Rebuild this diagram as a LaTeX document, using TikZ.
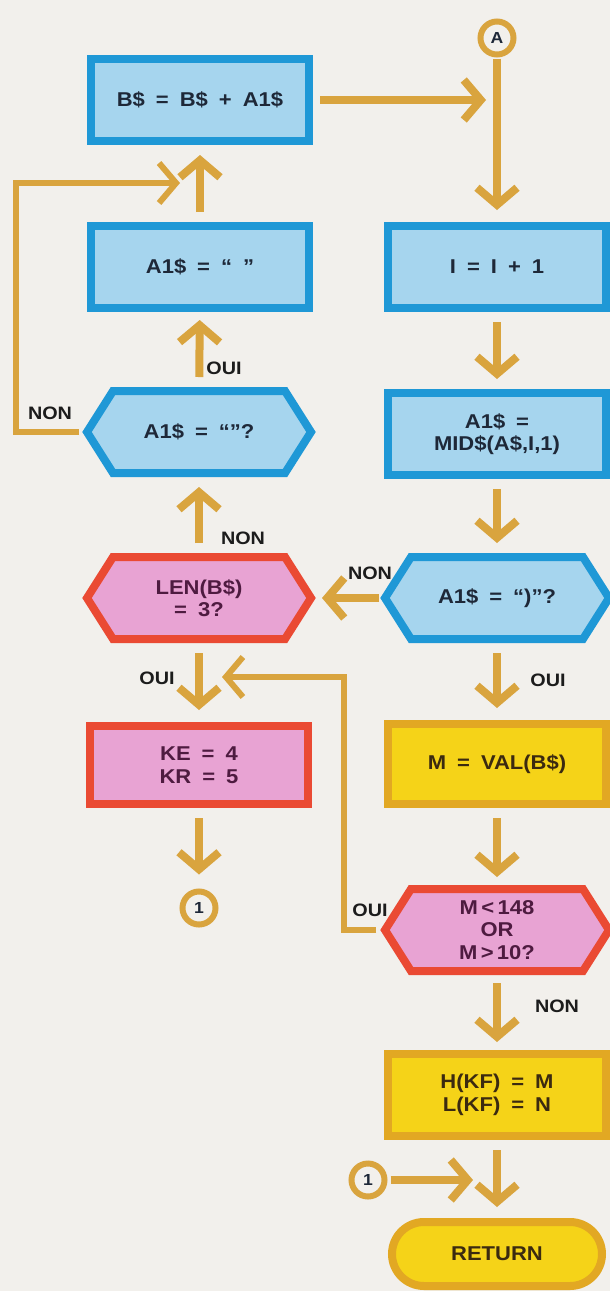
\documentclass[tikz,border=0pt]{standalone}
\usepackage{fontspec}
\setmainfont{Liberation Sans}[FakeStretch=1.1,WordSpace=1.8]
\usetikzlibrary{arrows.meta}

\pgfdeclarelayer{paperlayer}
\pgfdeclarelayer{framelayer}
\pgfsetlayers{paperlayer,framelayer,main}

\definecolor{paper}{HTML}{F2F0EC}
\definecolor{ochre}{HTML}{D9A43E}
\definecolor{bluerim}{HTML}{1F98D6}
\definecolor{bluefill}{HTML}{A6D5EE}
\definecolor{redrim}{HTML}{EA4A33}
\definecolor{pinkfill}{HTML}{E8A3D3}
\definecolor{goldrim}{HTML}{E2A823}
\definecolor{yellowfill}{HTML}{F5D318}
\definecolor{inkblue}{HTML}{1E2838}
\definecolor{inkpink}{HTML}{4E1B40}
\definecolor{inkgold}{HTML}{3B2A10}
\definecolor{labelink}{HTML}{1C1C1C}

\tikzset{
  txt/.style={font=\bfseries\fontsize{20}{22.5}\selectfont, align=center},
  procbox/.style={txt, rectangle, line width=8pt, minimum width=218pt,
    minimum height=82pt, inner sep=0pt},
  bluebox/.style={procbox, draw=bluerim, fill=bluefill, text=inkblue},
  pinkbox/.style={procbox, draw=redrim, fill=pinkfill, text=inkpink},
  goldbox/.style={procbox, draw=goldrim, fill=yellowfill, text=inkgold},
  testcore/.style={txt, rectangle, minimum width=224pt, minimum height=82pt,
    inner sep=0pt, outer sep=0pt},
  connector/.style={circle, draw=ochre, line width=6pt, fill=paper,
    minimum size=33pt, inner sep=0pt,
    font=\bfseries\fontsize{16}{16}\selectfont, text=inkblue},
  flow/.style={draw=ochre, line width=8pt,
    -{Straight Barb[length=17pt,width=40pt]},
    shorten <=10pt, shorten >=10pt},
  tag/.style={font=\bfseries\fontsize{18}{18}\selectfont, text=labelink,
    inner sep=0pt},
}

% hexagonal decision outline around a text node: name, rim colour, fill colour
\newcommand\testframe[3]{%
  \begin{pgfonlayer}{framelayer}
    \draw[line width=8pt, draw=#2, fill=#3, line join=miter]
      (#1.west) -- ([xshift=26pt]#1.north west) -- ([xshift=-26pt]#1.north east)
      -- (#1.east) -- ([xshift=-26pt]#1.south east) -- ([xshift=26pt]#1.south west)
      -- cycle;
  \end{pgfonlayer}}

\begin{document}
\begin{tikzpicture}[x=1pt,y=-1pt]
\begin{pgfonlayer}{paperlayer}
  \fill[paper] (0,0) rectangle (610,1291);
\end{pgfonlayer}
\useasboundingbox (0,0) rectangle (610,1291);

% left column
\node[bluebox] (bsum) at (200,100) {B\$ = B\$ + A1\$};
\node[bluebox] (blank) at (200,267) {A1\$ = “ ”};
\node[testcore, text=inkblue] (qempty) at (199,432) {A1\$ = “”?};
\testframe{qempty}{bluerim}{bluefill}
\node[testcore, text=inkpink] (qlen) at (199,598) {LEN(B\$)\\= 3?};
\testframe{qlen}{redrim}{pinkfill}
\node[pinkbox, minimum height=78pt] (ke) at (199,765) {KE = 4\\KR = 5};
\node[connector] (c1) at (199,908) {1};

% right column
\node[connector] (cA) at (497,38) {A};
\node[bluebox] (inc) at (497,267) {I = I + 1};
\node[bluebox] (mid) at (497,434) {A1\$ =\\MID\$(A\$,I,1)};
\node[testcore, text=inkblue] (qclose) at (497,598) {A1\$ = “)”?};
\testframe{qclose}{bluerim}{bluefill}
\node[goldbox, minimum height=80pt] (mval) at (497,764) {M = VAL(B\$)};
\node[testcore, text=inkpink] (qm) at (497,930) {M\,<\,148\\OR\\M\,>\,10?};
\testframe{qm}{redrim}{pinkfill}
\node[goldbox] (hkf) at (497,1095) {H(KF) = M\\L(KF) = N};
\node[goldbox, rounded corners=32pt, minimum width=210pt, minimum height=64pt]
  (ret) at (497,1254) {RETURN};
\node[connector] (c1b) at (368,1180) {1};

% bends and merge points of the connectors
\coordinate (loopW) at (16,0);
\coordinate (loopE) at (344,0);
\coordinate (mergeTop) at (200,183);
\coordinate (mergeMid) at (199,677);
\coordinate (mergeLow) at (497,1180);

% connectors
\draw[flow, shorten <=1pt, shorten >=12pt] (cA) -- (inc);
\draw[flow, shorten <=7pt, shorten >=11pt] (bsum.east) -- (bsum.east -| cA);
\draw[flow] (blank) -- (bsum);
\draw[flow, shorten <=14pt, shorten >=8pt] (qempty) -- (blank);
\draw[flow, line width=6pt, shorten <=8pt, shorten >=20pt]
  (qempty.west) -- (qempty.west -| loopW) |- (mergeTop);
\draw[flow] (inc) -- (mid);
\draw[flow, shorten >=14pt] (mid) -- (qclose);
\draw[flow, shorten <=6pt, shorten >=11pt] (qclose) -- (qlen);
\draw[flow, shorten <=14pt, shorten >=14pt] (qlen) -- (qempty);
\draw[flow, shorten <=14pt, shorten >=12pt] (qlen) -- (ke);
\draw[flow, shorten <=14pt, shorten >=12pt] (qclose) -- (mval);
\draw[flow, shorten <=10pt, shorten >=12pt] (mval) -- (qm);
\draw[flow, line width=6pt, shorten <=9pt, shorten >=23pt]
  (qm.west) -- (qm.west -| loopE) |- (mergeMid);
\draw[flow, shorten <=12pt, shorten >=8pt] (qm) -- (hkf);
\draw[flow, shorten <=10pt, shorten >=14pt] (ke) -- (c1);
\draw[flow, shorten <=10pt, shorten >=11pt] (hkf) -- (ret);
\draw[flow, shorten <=3pt, shorten >=24pt] (c1b) -- (mergeLow);

% branch labels
\node[tag] (oui1) at (224,368) {OUI};
\node[tag] (non1) at (50,413) {NON};
\node[tag] (non2) at (243,538) {NON};
\node[tag] (non3) at (370,573) {NON};
\node[tag] (oui2) at (157,678) {OUI};
\node[tag] (oui3) at (548,680) {OUI};
\node[tag] (oui4) at (370,910) {OUI};
\node[tag] (non4) at (557,1006) {NON};
\end{tikzpicture}
\end{document}
